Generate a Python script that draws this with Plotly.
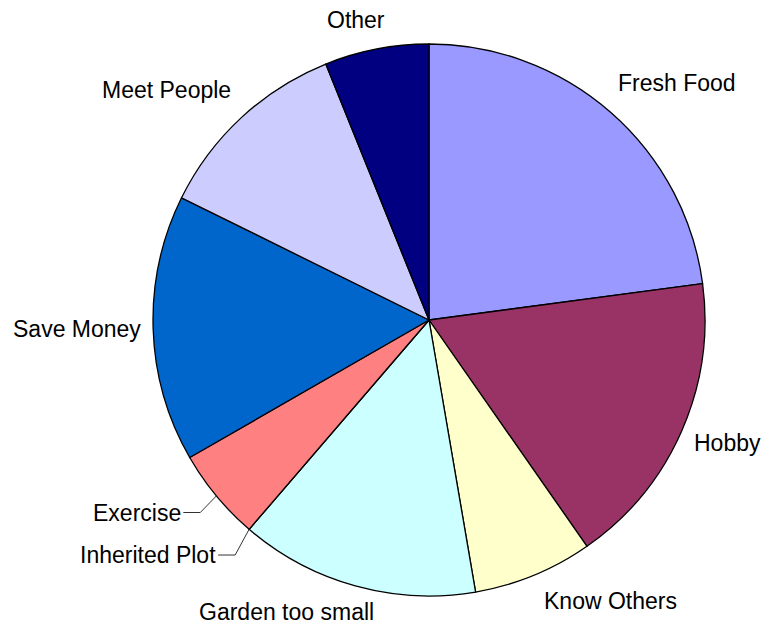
import math
import plotly.graph_objects as go

# ---- data ----
labels = ["Fresh Food", "Hobby", "Know Others", "Garden too small", "Inherited Plot",
          "Exercise", "Save Money", "Meet People", "Other"]
values = [22.9, 17.4, 7.0, 14.0, 0.0, 5.4, 15.6, 11.6, 6.1]
colors = ["#9999FF", "#993366", "#FFFFCC", "#CCFFFF", "#660066",
          "#FF8080", "#0066CC", "#CCCCFF", "#000080"]
leader_labels = ["Inherited Plot", "Exercise"]
# small pixel nudges (dx, dy down) for labels shifted to avoid crowding
label_nudge = {"Garden too small": (24, -1), "Other": (13, -2), "Hobby": (-1, 7),
               "Inherited Plot": (3, 6), "Exercise": (4, 0), "Fresh Food": (-3, -5),
               "Meet People": (0, -4), "Know Others": (4, 0), "Save Money": (2, 0)}

# ---- layout geometry ----
W, H = 763, 627
L, T, S = 153, 44, 552           # left margin, top margin, pie box size
Rm = W - L - S
Bm = H - T - S
FONT = "Liberation Sans, Arial, sans-serif"
FS = 23

fig = go.Figure(go.Pie(
    labels=labels, values=values, sort=False, direction="clockwise", rotation=0,
    marker=dict(colors=colors, line=dict(color="#000000", width=1.3)),
    textinfo="none", hoverinfo="label+percent", showlegend=False,
    domain=dict(x=[0, 1], y=[0, 1]),
))

total = sum(values)
r_arc = 0.5                      # pie radius in paper units
r_lab = 288 / S
r_elb = 302 / S
h_off = 17 / S
annotations, shapes = [], []
cum = 0.0
for lab, v in zip(labels, values):
    th = math.radians((cum + v / 2) / total * 360)
    cum += v
    sx, cy = math.sin(th), math.cos(th)
    nx, ny = label_nudge.get(lab, (0, 0))
    font = dict(family=FONT, size=FS, color="#000000")
    if lab in leader_labels:
        x0, y0 = 0.5 + r_arc * sx, 0.5 + r_arc * cy
        x1, y1 = 0.5 + r_elb * sx + nx / S, 0.5 + r_elb * cy - ny / S
        d = 1 if sx > 0 else -1
        x2 = x1 + d * h_off
        shapes.append(dict(type="path", xref="paper", yref="paper",
                           path=f"M {x0} {y0} L {x1} {y1} L {x2} {y1}",
                           line=dict(color="#333333", width=1)))
        annotations.append(dict(x=x2, y=y1, xref="paper", yref="paper", text=lab,
                                showarrow=False, xanchor="left" if d > 0 else "right",
                                yanchor="middle", font=font))
    else:
        x = 0.5 + r_lab * sx + nx / S
        y = 0.5 + r_lab * cy - ny / S
        xa = "left" if sx > 0.1 else ("right" if sx < -0.1 else "center")
        ya = "bottom" if cy > 0.5 else ("top" if cy < -0.5 else "middle")
        annotations.append(dict(x=x, y=y, xref="paper", yref="paper", text=lab,
                                showarrow=False, xanchor=xa, yanchor=ya, font=font))

fig.update_layout(
    width=W, height=H,
    margin=dict(l=L, r=Rm, t=T, b=Bm, pad=0),
    paper_bgcolor="#FFFFFF", plot_bgcolor="#FFFFFF",
    annotations=annotations, shapes=shapes,
    font=dict(family=FONT, size=FS, color="#000000"),
)
fig.write_html("out.html", config={"displayModeBar": False},
               post_script="document.body.style.margin='0';document.body.style.overflow='hidden';")
